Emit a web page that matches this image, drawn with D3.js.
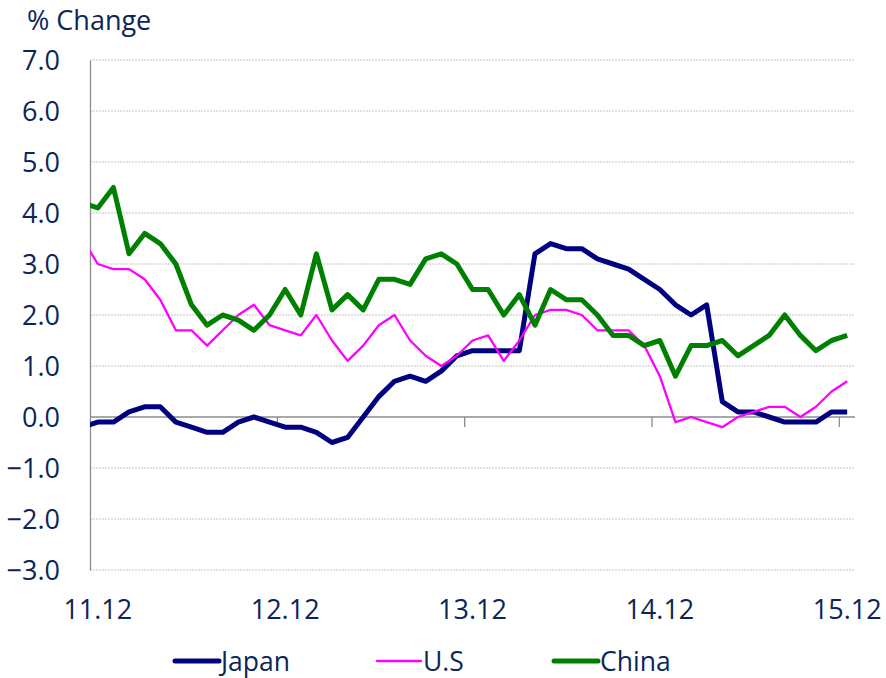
<!DOCTYPE html>
<html>
<head>
<meta charset="utf-8">
<script src="https://cdn.jsdelivr.net/npm/d3@7"></script>
<style>
    body { margin: 0; background: #fff; }
    #chart { width: 886px; height: 678px; }
    text { font-family: "Open Sans", sans-serif; fill: #0c2559; }
</style>
</head>
<body>
<div id="chart"></div>
<script>
// months shown on the axis (first one, 11.11, sits just left of the plot and is clipped)
var categories = ['11.11', '11.12'];
for (var yr = 12; yr <= 15; yr++) {
    for (var m = 1; m <= 12; m++) {
        categories.push(yr + '.' + (m < 10 ? '0' + m : m));
    }
}

var tickLabels = ['11.12', '12.12', '13.12', '14.12', '15.12'];
var yTicks = [-3, -2, -1, 0, 1, 2, 3, 4, 5, 6, 7];

var japan = [-0.2, -0.1, -0.1, 0.1, 0.2, 0.2, -0.1, -0.2, -0.3, -0.3, -0.1, 0.0, -0.1,
    -0.2, -0.2, -0.3, -0.5, -0.4, 0.0, 0.4, 0.7, 0.8, 0.7, 0.9, 1.2,
    1.3, 1.3, 1.3, 1.3, 3.2, 3.4, 3.3, 3.3, 3.1, 3.0, 2.9, 2.7,
    2.5, 2.2, 2.0, 2.2, 0.3, 0.1, 0.1, 0.0, -0.1, -0.1, -0.1, 0.1, 0.1];

var us = [3.5, 3.0, 2.9, 2.9, 2.7, 2.3, 1.7, 1.7, 1.4, 1.7, 2.0, 2.2, 1.8,
    1.7, 1.6, 2.0, 1.5, 1.1, 1.4, 1.8, 2.0, 1.5, 1.2, 1.0, 1.2,
    1.5, 1.6, 1.1, 1.5, 2.0, 2.1, 2.1, 2.0, 1.7, 1.7, 1.7, 1.4,
    0.8, -0.1, 0.0, -0.1, -0.2, 0.0, 0.1, 0.2, 0.2, 0.0, 0.2, 0.5, 0.7];

var china = [4.2, 4.1, 4.5, 3.2, 3.6, 3.4, 3.0, 2.2, 1.8, 2.0, 1.9, 1.7, 2.0,
    2.5, 2.0, 3.2, 2.1, 2.4, 2.1, 2.7, 2.7, 2.6, 3.1, 3.2, 3.0,
    2.5, 2.5, 2.0, 2.4, 1.8, 2.5, 2.3, 2.3, 2.0, 1.6, 1.6, 1.4,
    1.5, 0.8, 1.4, 1.4, 1.5, 1.2, 1.4, 1.6, 2.0, 1.6, 1.3, 1.5, 1.6];

var series = [
    { name: 'Japan', values: japan, colour: '#000080', width: 5 },
    { name: 'U.S', values: us, colour: '#ff00ff', width: 2.3 },
    { name: 'China', values: china, colour: '#008000', width: 5 }
];

var width = 886;
var height = 678;

var margin = {
    top: 60,
    bottom: 108,
    left: 90,
    right: 31
};

var svg = d3.select('#chart')
    .append('svg')
    .attr('width', width)
    .attr('height', height);

var w = width - margin.left - margin.right;
var h = height - margin.top - margin.bottom;

var g = svg.append('g')
    .attr('transform', 'translate(' + margin.left + ',' + margin.top + ')');

var x_scale = d3.scaleLinear()
    .domain([0.5, categories.length - 0.5])
    .range([0, w]);

var y_scale = d3.scaleLinear()
    .domain([-3, 7])
    .range([h, 0]);

g.append('clipPath')
    .attr('id', 'plotClip')
    .append('rect')
    .attr('width', w)
    .attr('height', h + 10)
    .attr('y', -5);

// dotted horizontal grid
g.selectAll('.grid')
    .data(yTicks.filter(function (d) { return d !== 0; }))
    .enter()
    .append('line')
    .attr('class', 'grid')
    .attr('x1', 0)
    .attr('x2', w)
    .attr('y1', function (d) { return y_scale(d); })
    .attr('y2', function (d) { return y_scale(d); })
    .attr('stroke', '#c4c4c4')
    .attr('stroke-width', 1)
    .attr('stroke-dasharray', '2,1');

// y axis
var y_axis = d3.axisLeft(y_scale)
    .tickValues(yTicks)
    .tickSize(0)
    .tickPadding(30)
    .tickFormat(d3.format('.1f'));

var yAxis = g.append('g')
    .attr('class', 'y axis')
    .call(y_axis);
yAxis.select('.domain').attr('stroke', '#8c8c8c').attr('stroke-width', 1.3);
yAxis.selectAll('text')
    .style('font-size', '27px')
    .attr('dy', '0.35em');

// x axis on zero line, ticks between 12-month blocks
var tickIdx = tickLabels.map(function (t) { return categories.indexOf(t); });

var xAxis = g.append('g')
    .attr('class', 'x axis')
    .attr('transform', 'translate(0,' + y_scale(0) + ')');

xAxis.append('line')
    .attr('x1', 0)
    .attr('x2', w)
    .attr('stroke', '#8c8c8c')
    .attr('stroke-width', 1.3);

xAxis.selectAll('.tick')
    .data(tickIdx.slice(1))
    .enter()
    .append('line')
    .attr('class', 'tick')
    .attr('x1', function (d) { return x_scale(d - 0.5); })
    .attr('x2', function (d) { return x_scale(d - 0.5); })
    .attr('y1', 0)
    .attr('y2', 10)
    .attr('stroke', '#8c8c8c')
    .attr('stroke-width', 1.3);

g.selectAll('.xlabel')
    .data(tickIdx)
    .enter()
    .append('text')
    .attr('class', 'xlabel')
    .attr('x', function (d) { return x_scale(d); })
    .attr('y', h + 49)
    .attr('text-anchor', 'middle')
    .style('font-size', '27px')
    .text(function (d) { return categories[d]; });

// lines
var line = d3.line()
    .x(function (d, i) { return x_scale(i); })
    .y(function (d) { return y_scale(d); });

g.append('g')
    .attr('clip-path', 'url(#plotClip)')
    .selectAll('.series')
    .data(series)
    .enter()
    .append('path')
    .attr('class', 'series')
    .attr('d', function (d) { return line(d.values); })
    .attr('fill', 'none')
    .attr('stroke', function (d) { return d.colour; })
    .attr('stroke-width', function (d) { return d.width; })
    .attr('stroke-linejoin', 'round');

// title
svg.append('text')
    .attr('x', 27)
    .attr('y', 30)
    .style('font-size', '27px')
    .text('% Change');

// legend
var legendX = [175, 377, 554];
var legend = svg.selectAll('.legend')
    .data(series)
    .enter()
    .append('g')
    .attr('class', 'legend')
    .attr('transform', function (d, i) { return 'translate(' + legendX[i] + ',661)'; });

legend.append('line')
    .attr('x1', 0)
    .attr('x2', 44)
    .attr('stroke', function (d) { return d.colour; })
    .attr('stroke-width', function (d) { return d.width; })
    .attr('stroke-linecap', 'round');

legend.append('text')
    .attr('x', 46)
    .attr('y', 10)
    .style('font-size', '26.5px')
    .text(function (d) { return d.name; });
</script>
</body>
</html>
